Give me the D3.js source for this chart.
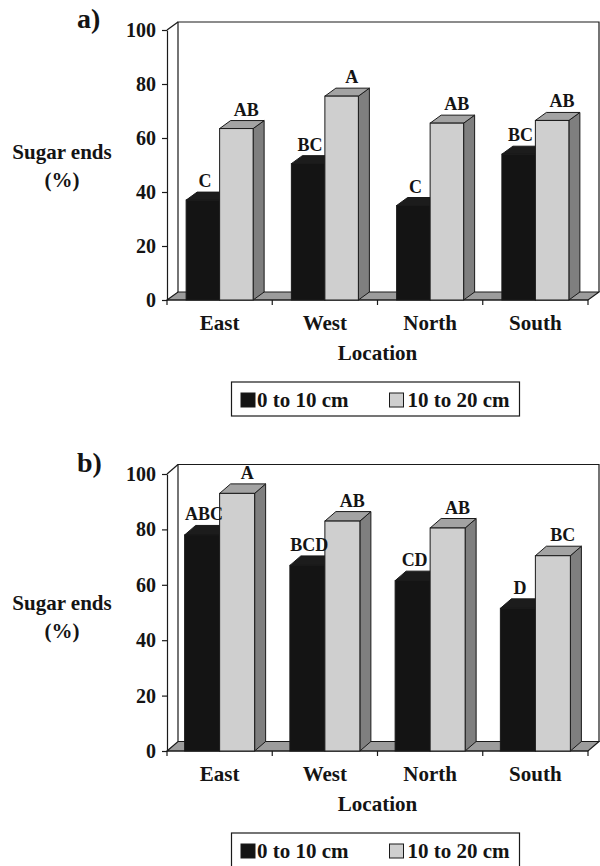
<!DOCTYPE html>
<html>
<head>
<meta charset="utf-8">
<script src="https://cdn.jsdelivr.net/npm/d3@7"></script>
<style>
  body { margin: 0; background: #fff; }
  svg { display: block; }
  text { font-family: "Liberation Serif", "Times New Roman", serif; font-weight: bold; fill: #141414; }
</style>
</head>
<body>
<div id="chart"></div>
<script>
// Sugar ends (%) by location and soil depth, two panels

const locations = ['East', 'West', 'North', 'South'];
const depths = ['0 to 10 cm', '10 to 20 cm'];
const yTicks = [0, 20, 40, 60, 80, 100];

// panel a)
const aShallow = [37, 50.5, 35, 54];
const aDeep = [63.5, 75.5, 65.5, 66.5];
const aShallowLetters = ['C', 'BC', 'C', 'BC'];
const aDeepLetters = ['AB', 'A', 'AB', 'AB'];

// panel b)
const bShallow = [78, 67, 61.5, 51.5];
const bDeep = [93, 83, 80.5, 70.5];
const bShallowLetters = ['ABC', 'BCD', 'CD', 'D'];
const bDeepLetters = ['A', 'AB', 'AB', 'BC'];

const W = 600, H = 866;
const svg = d3.select('#chart').append('svg').attr('width', W).attr('height', H);
svg.append('rect').attr('width', W).attr('height', H).attr('fill', '#fff');

const ink = '#1a1a1a';
const fills = {
    shallow: { front: '#141414', top: '#1c1c1c', side: '#0e0e0e' },
    deep: { front: '#cfcfcf', top: '#a3a3a3', side: '#7f7f7f' }
};

function drawPanel(cfg) {
    const g = svg.append('g');
    const x1 = 167, x2 = 588;
    const dx = cfg.dx, dy = cfg.dy;

    const y = d3.scaleLinear().domain([0, 100]).range([cfg.y0, cfg.y100]);
    const x = d3.scaleBand().domain(locations).range([x1, x2]);
    const sub = d3.scaleBand().domain(['shallow', 'deep'])
        .range([0, cfg.barW * 2]);
    const groupOffset = (x.bandwidth() - cfg.barW * 2) / 2;

    // back wall
    g.append('path')
        .attr('d', `M${x1 + dx},${cfg.y0 - dy}V${cfg.y100 - dy}H${x2 + dx}V${cfg.y0 - dy}`)
        .attr('fill', 'none').attr('stroke', ink).attr('stroke-width', 1.2);
    g.append('line')
        .attr('x1', x1).attr('y1', cfg.y100).attr('x2', x1 + dx).attr('y2', cfg.y100 - dy)
        .attr('stroke', ink).attr('stroke-width', 1.2);

    // floor
    g.append('path')
        .attr('d', `M${x1},${cfg.y0}L${x1 + dx},${cfg.y0 - dy}H${x2 + dx}L${x2},${cfg.y0}Z`)
        .attr('fill', '#9c9c9c').attr('stroke', ink).attr('stroke-width', 1.2);

    // y axis
    const yAxis = g.append('g')
        .attr('transform', `translate(${x1},0)`)
        .call(d3.axisLeft(y).tickValues(yTicks).tickSize(5).tickSizeOuter(0).tickPadding(6));
    yAxis.select('.domain').attr('stroke', ink).attr('stroke-width', 1.2);
    yAxis.selectAll('.tick line').attr('stroke', ink).attr('stroke-width', 1.2);
    yAxis.selectAll('.tick text')
        .attr('font-size', 20).attr('font-family', null).attr('fill', null);

    // x axis line + boundary ticks
    g.append('line')
        .attr('x1', x1).attr('x2', x2).attr('y1', cfg.y0).attr('y2', cfg.y0)
        .attr('stroke', ink).attr('stroke-width', 1.2);
    const bounds = locations.map(d => x(d)).concat([x2]);
    g.selectAll('.xtick').data(bounds).join('line')
        .attr('x1', d => d).attr('x2', d => d)
        .attr('y1', cfg.y0).attr('y2', cfg.y0 + 5)
        .attr('stroke', ink).attr('stroke-width', 1.2);

    // bars
    const rows = [];
    locations.forEach((loc, i) => {
        rows.push({ loc, key: 'shallow', v: cfg.shallow[i], letter: cfg.shallowLetters[i], shift: 2 });
        rows.push({ loc, key: 'deep', v: cfg.deep[i], letter: cfg.deepLetters[i], shift: 10 });
    });

    const bar = g.selectAll('.bar').data(rows).join('g').attr('class', 'bar');
    const bx = d => x(d.loc) + groupOffset + sub(d.key);
    const bw = sub.bandwidth();

    bar.append('path')
        .attr('d', d => {
            const x0 = bx(d) + bw, yt = y(d.v);
            return `M${x0},${yt}L${x0 + dx},${yt - dy}V${cfg.y0 - dy}L${x0},${cfg.y0}Z`;
        })
        .attr('fill', d => fills[d.key].side).attr('stroke', ink).attr('stroke-width', 1);
    bar.append('path')
        .attr('d', d => {
            const x0 = bx(d), yt = y(d.v);
            return `M${x0},${yt}L${x0 + dx},${yt - dy}H${x0 + bw + dx}L${x0 + bw},${yt}Z`;
        })
        .attr('fill', d => fills[d.key].top).attr('stroke', ink).attr('stroke-width', 1);
    bar.append('rect')
        .attr('x', bx).attr('y', d => y(d.v))
        .attr('width', bw).attr('height', d => cfg.y0 - y(d.v))
        .attr('fill', d => fills[d.key].front).attr('stroke', ink).attr('stroke-width', 1);

    // significance letters
    g.selectAll('.letter').data(rows).join('text')
        .attr('x', d => bx(d) + bw / 2 + d.shift)
        .attr('y', d => y(d.v) - dy - 5)
        .attr('text-anchor', 'middle')
        .attr('font-size', 18)
        .text(d => d.letter);

    // category labels
    g.selectAll('.cat').data(locations).join('text')
        .attr('x', d => x(d) + x.bandwidth() / 2)
        .attr('y', cfg.y0 + 30)
        .attr('text-anchor', 'middle')
        .attr('font-size', 21)
        .text(d => d);

    g.append('text')
        .attr('x', (x1 + x2) / 2).attr('y', cfg.y0 + 60)
        .attr('text-anchor', 'middle').attr('font-size', 21)
        .text('Location');

    // y title
    g.append('text')
        .attr('x', 62).attr('y', cfg.y0 - 141)
        .attr('text-anchor', 'middle').attr('font-size', 21)
        .text('Sugar ends');
    g.append('text')
        .attr('x', 62).attr('y', cfg.y0 - 113)
        .attr('text-anchor', 'middle').attr('font-size', 21)
        .text('(%)');

    // panel tag
    g.append('text')
        .attr('x', 77).attr('y', cfg.y100 - 2)
        .attr('font-size', 28)
        .text(cfg.tag);

    // legend
    const ly = cfg.y0 + 82;
    const lg = g.append('g');
    lg.append('rect')
        .attr('x', 231.5).attr('y', ly).attr('width', 288).attr('height', 34)
        .attr('fill', '#fff').attr('stroke', ink).attr('stroke-width', 1.2);
    const items = [
        { key: 'shallow', label: depths[0], sx: 241, tx: 257 },
        { key: 'deep', label: depths[1], sx: 389.5, tx: 407.5 }
    ];
    lg.selectAll('.sw').data(items).join('rect')
        .attr('x', d => d.sx).attr('y', ly + 11).attr('width', 14).attr('height', 14)
        .attr('fill', d => fills[d.key].front).attr('stroke', ink).attr('stroke-width', 1);
    lg.selectAll('.lt').data(items).join('text')
        .attr('x', d => d.tx).attr('y', ly + 25)
        .attr('font-size', 21)
        .text(d => d.label);
}

drawPanel({
    tag: 'a)', y0: 300, y100: 30, dx: 11, dy: 8, barW: 33.5,
    shallow: aShallow, deep: aDeep,
    shallowLetters: aShallowLetters, deepLetters: aDeepLetters
});

drawPanel({
    tag: 'b)', y0: 751, y100: 474, dx: 11, dy: 9.5, barW: 35,
    shallow: bShallow, deep: bDeep,
    shallowLetters: bShallowLetters, deepLetters: bDeepLetters
});
</script>
</body>
</html>
